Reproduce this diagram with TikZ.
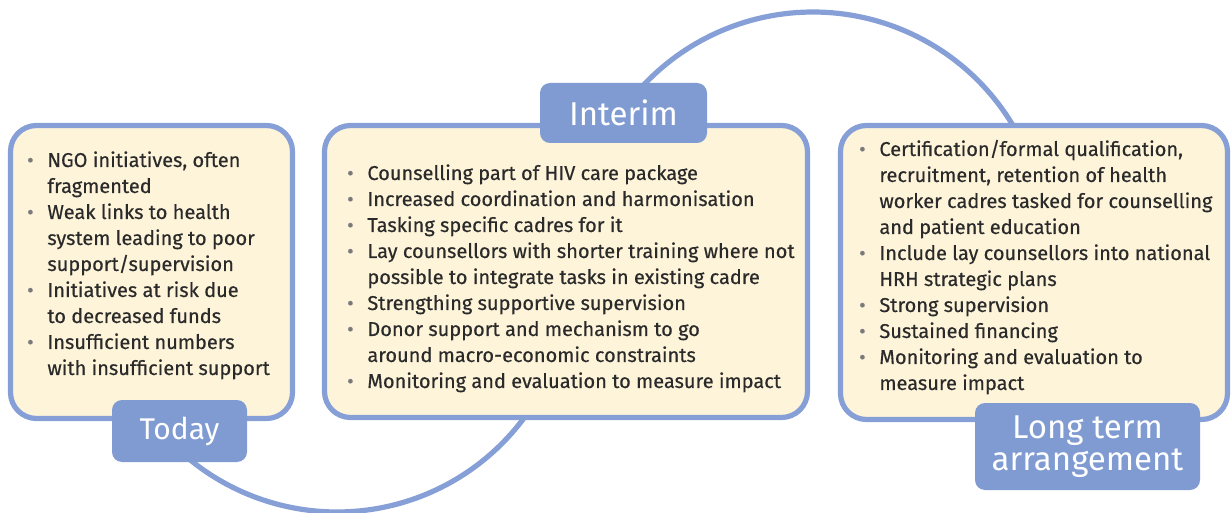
\documentclass[tikz,border=0pt]{standalone}
\usepackage{fontspec}
\setmainfont{Fira Sans}
\definecolor{bord}{HTML}{869FD6}
\definecolor{lab}{HTML}{7F9BD2}
\definecolor{cream}{HTML}{FDF4D9}
\definecolor{txt}{HTML}{2A2A2A}
\definecolor{bul}{HTML}{7A7A7A}
\newcommand{\mybul}{\makebox[10pt][l]{\makebox[3pt][c]{\textcolor{bul}{\textbullet}}}}
\begin{document}
\begin{tikzpicture}[x=0.5pt,y=-0.5pt,
  panel/.style={draw=bord, line width=2.6pt, fill=cream, rounded corners=13pt, inner sep=0pt},
  tag/.style={fill=lab, rounded corners=5pt, text=white, font=\fontsize{16.5}{16}\selectfont, align=center, inner sep=0pt},
  link/.style={draw=bord, line width=2.6pt},
  body/.style={text=txt, anchor=base west, inner sep=0pt, align=left, font=\fontsize{10}{13}\selectfont\addfontfeature{FakeBold=0.4}}]
\useasboundingbox (0,0) rectangle (1232,513);
% connectors (behind)
\draw[link] plot[domain=30:132, samples=80] ({337+233*cos(\x)},{279+233*sin(\x)});
\draw[link] plot[domain=215:330, samples=80] ({813+233*cos(\x)},{245+233*sin(\x)});
% panels
\node[panel, minimum width=141pt, minimum height=146.5pt] (todaybox) at (151.5,272) {};
\node[panel, minimum width=241.5pt, minimum height=146pt] (interimbox) at (566,271.5) {};
\node[panel, minimum width=193.5pt, minimum height=147pt] (longbox) at (1034,272.5) {};
% texts
\node[body] (todaytext) at (27,167) {%
\begin{tabular}[t]{@{}l@{}l@{}}
\mybul & NGO initiatives, often\\
 & fragmented\\
\mybul & Weak links to health\\
 & system leading to poor\\
 & support/supervision\\
\mybul & Initiatives at risk due\\
 & to decreased funds\\
\mybul & Insufficient numbers\\
 & with insufficient support
\end{tabular}};
\node[body] (interimtext) at (347,180) {%
\begin{tabular}[t]{@{}l@{}l@{}}
\mybul & Counselling part of HIV care package\\
\mybul & Increased coordination and harmonisation\\
\mybul & Tasking specific cadres for it\\
\mybul & Lay counsellors with shorter training where not\\
 & possible to integrate tasks in existing cadre\\
\mybul & Strengthing supportive supervision\\
\mybul & Donor support and mechanism to go\\
 & around macro-economic constraints\\
\mybul & Monitoring and evaluation to measure impact
\end{tabular}};
\node[body] (longtext) at (859,156) {%
\begin{tabular}[t]{@{}l@{}l@{}}
\mybul & Certification/formal qualification,\\
 & recruitment, retention of health\\
 & worker cadres tasked for counselling\\
 & and patient education\\
\mybul & Include lay counsellors into national\\
 & HRH strategic plans\\
\mybul & Strong supervision\\
\mybul & Sustained financing\\
\mybul & Monitoring and evaluation to\\
 & measure impact
\end{tabular}};
% tags
\node[tag, font=\fontsize{15}{16}\selectfont, minimum width=67.5pt, minimum height=31pt] (today) at (179.5,431) {Today};
\node[tag, minimum width=83.5pt, minimum height=30pt] (interim) at (623.5,113) {Interim};
\node[tag, minimum width=112.5pt, minimum height=43.5pt] (longterm) at (1087.5,446.5) {Long term\\arrangement};
\end{tikzpicture}
\end{document}
